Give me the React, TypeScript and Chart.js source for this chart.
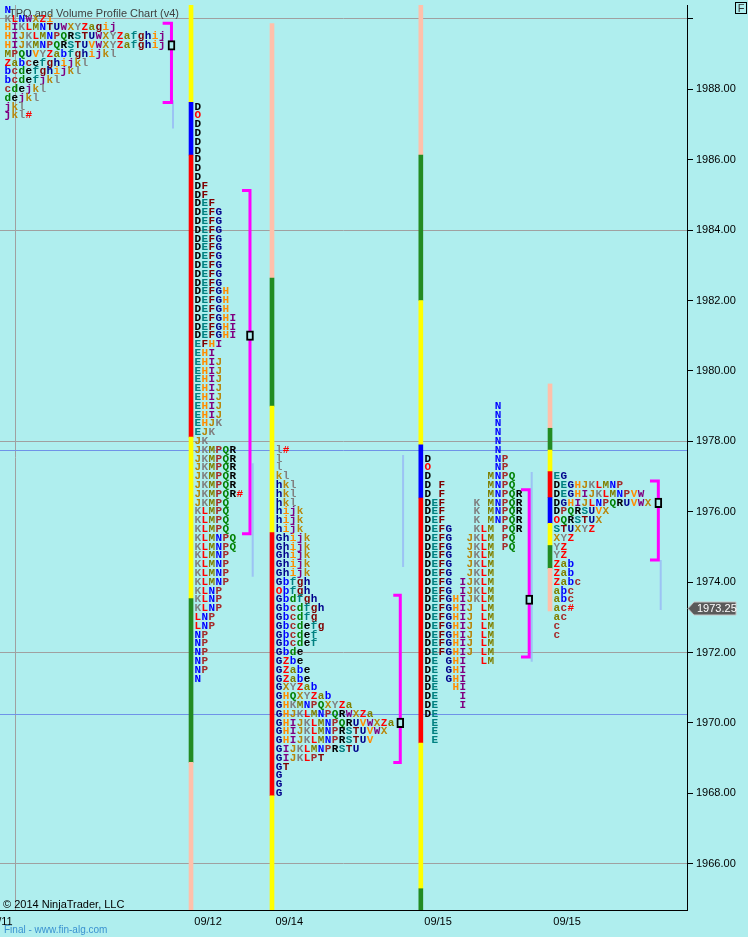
import React, { useEffect, useRef } from 'react';
import { Chart, registerables } from 'chart.js';

Chart.register(...registerables);

const BG = '#AFEEEE';

// ---- axes ----
const yMin = 1964.685;
const yMax = 1990.395;
const yTicks = [1966, 1968, 1970, 1972, 1974, 1976, 1978, 1980, 1982, 1984, 1986, 1988, 1990];
const yGridLevels = [1966, 1972, 1978, 1984, 1990];
const refLevels = [1977.75, 1970.25];
const xMin = 0;
const xMax = 98;
const gridVerticals = [2.14];
const lastPrice = 1973.25;

// ---- sessions ----
const sessionDates = ['09/11', '09/12', '09/14', '09/15', '09/15'];
const dateTickX = [-2.0, 27.72, 39.3, 60.53, 78.93];
const tpoStartX = [0.61, 27.72, 39.3, 60.53, 78.93];
const tpoTop = [1990.25, 1987.5, 1977.75, 1979.0, 1977.0];

const rep = (s: string, n: number) => Array.from({ length: n }, () => s);

const tpoRows1 = [
  'N', 'KLNWXZi', 'HIKLMNTUWXYZagij', 'HIJKLMNPQRSTUWXYZafghij', 'HIJKMNPQRSTUVWXYZafghij',
  'MPQUVYZabfghijkl', 'Zabcefghijkl', 'bcdefghijkl', 'bcdefjkl', 'cdejkl', 'dejkl', 'jkl', 'jkl#',
];
const tpoRows2 = [
  'D', 'O', ...rep('D', 7), 'DF', 'DF', 'DEF', ...rep('DEFG', 9), ...rep('DEFGH', 3), ...rep('DEFGHI', 3),
  'EFHI', 'EHI', ...rep('EHIJ', 7), 'EHJK', 'EJK', 'JK', ...rep('JKMPQR', 5), 'JKMPQR#', 'JKMPQ',
  ...rep('KLMPQ', 3), ...rep('KLMNPQ', 2), ...rep('KLMNP', 4), ...rep('KLNP', 3), ...rep('LNP', 2),
  ...rep('NP', 5), 'N',
];
const tpoRows3 = [
  'l#', 'l', 'l', 'kl', 'hkl', 'hkl', 'hkl', 'hijk', 'hijk', 'hijk', ...rep('Ghijk', 5),
  'Gbfgh', 'Obfgh', 'Gbdfgh', 'Gbcdfgh', 'Gbcdfg', 'Gbcdefg', 'Gbcdef', 'Gbcdef', 'Gbde',
  'GZbe', 'GZabe', 'GZabe', 'GXYZab', 'GHQXYZab', 'GHKMNPQXYZa', 'GHJKLMNPQRWXZa',
  'GHIJKLMNPQRUVWXZa', 'GHIJKLMNPRSTUVWX', 'GHIJKLMNPRSTUV', 'GIJKLMNPRSTU', 'GIJKLPT', 'GT', 'G', 'G', 'G',
];
const tpoRows4 = [
  ...rep('          N', 6), 'D         NP', 'O         NP', 'D        MNPQ', 'D F      MNPQ', 'D F      MNPQR',
  ...rep('DEF    K MNPQR', 3), 'DEFG   KLM PQR', ...rep('DEFG  JKLM PQ', 2), ...rep('DEFG  JKLM', 3),
  ...rep('DEFG IJKLM', 2), 'DEFGHIJKLM', ...rep('DEFGHIJ LM', 6), 'DE GHI  LM', ...rep('DE GHI', 2),
  'DE  HI', ...rep('DE   I', 2), 'DE', ...rep(' E', 3),
];
const tpoRows5 = [
  'EG', 'DEGHJKLMNP', 'DEGHIJKLMNPVW', 'DGHIJLNPQRUVWX', 'DPQRSUVX', 'OQRSTUX', 'STUXYZ', 'XYZ', 'YZ', 'YZ',
  'Zab', 'Zab', 'Zabc', 'abc', 'abc', 'ac#', 'ac', 'c', 'c',
];
const tpoSessions = [tpoRows1, tpoRows2, tpoRows3, tpoRows4, tpoRows5];
const tpoStep = 0.25;

// TPO letter colour cycle (O is reserved for the open, # for the close)
const tpoLetters = 'DEFGHIJKLMNPQRSTUVWXYZabcdefghijkl';
const tpoPalette = ['#000000', '#008080', '#800000', '#00008B', '#FF8C00', '#800080', '#B8860B',
  '#808080', '#FF0000', '#808000', '#0000FF', '#A52A2A', '#008000'];

// volume-profile colour strips: [low, high, colourKey]
const profileBarX = [27.25, 38.8, 60.03, 78.46];
const profileSegments = [
  [[1987.63, 1990.395, 'Y'], [1986.13, 1987.63, 'B'], [1978.12, 1986.13, 'R'], [1973.53, 1978.12, 'Y'], [1968.88, 1973.53, 'G'], [1964.685, 1968.88, 'S']],
  [[1982.64, 1989.87, 'S'], [1979.0, 1982.64, 'G'], [1975.41, 1979.0, 'Y'], [1967.93, 1975.41, 'R'], [1964.685, 1967.93, 'Y']],
  [[1986.13, 1990.395, 'S'], [1982.0, 1986.13, 'G'], [1977.9, 1982.0, 'Y'], [1976.39, 1977.9, 'B'], [1969.43, 1976.39, 'R'], [1965.29, 1969.43, 'Y'], [1964.685, 1965.29, 'G']],
  [[1978.37, 1979.63, 'S'], [1977.75, 1978.37, 'G'], [1977.14, 1977.75, 'Y'], [1976.4, 1977.14, 'R'], [1975.67, 1976.4, 'B'], [1975.04, 1975.67, 'Y'], [1974.39, 1975.04, 'G'], [1973.18, 1974.39, 'S']],
];
const stripColors: Record<string, string> = { Y: '#FFFF00', B: '#0000FF', R: '#FF0000', G: '#228B22', S: '#FFC0AA' };

// value areas
const vaX = [24.46, 35.66, 57.1, 75.49, 93.91];
const vaTickX = [23.2, 34.52, 56.1, 74.32, 92.72];
const vaTop = [1989.875, 1985.125, 1973.625, 1976.625, 1976.875];
const vaBottom = [1987.625, 1975.375, 1968.875, 1971.875, 1974.625];
const pocPrice = [1989.25, 1981.0, 1970.0, 1973.5, 1976.25];

// faint developing lines
const faintX = [24.68, 36.05, 57.5, 75.85, 94.25];
const faintTop = [1987.69, 1977.38, 1977.61, 1977.13, 1974.63];
const faintBottom = [1986.89, 1974.15, 1974.43, 1971.74, 1973.21];

const SANS = "'Liberation Sans', Arial, sans-serif";

function letterColor(ch: string) {
  if (ch === 'O' || ch === '#') return '#FF0000';
  const i = tpoLetters.indexOf(ch);
  return i < 0 ? '#000' : tpoPalette[i % tpoPalette.length];
}

const bgPlugin = {
  id: 'bgFill',
  beforeDraw(chart: any) {
    const { ctx, width, height } = chart;
    ctx.save();
    ctx.fillStyle = BG;
    ctx.fillRect(0, 0, width, height);
    ctx.restore();
  },
};

const tpoPlugin = {
  id: 'tpoLetters',
  beforeDatasetsDraw(chart: any) {
    const { ctx, chartArea: a, scales } = chart;
    const x = scales.x;
    const y = scales.y;
    ctx.save();
    ctx.beginPath();
    ctx.rect(a.left, a.top, a.right - a.left, a.bottom - a.top);
    ctx.clip();
    ctx.lineWidth = 1;
    ctx.strokeStyle = '#A0A0A0';
    gridVerticals.forEach((v) => {
      const px = Math.round(x.getPixelForValue(v)) + 0.5;
      ctx.beginPath();
      ctx.moveTo(px, a.top);
      ctx.lineTo(px, a.bottom);
      ctx.stroke();
    });
    ctx.strokeStyle = '#6F93E8';
    refLevels.forEach((p) => {
      const py = Math.round(y.getPixelForValue(p)) + 0.5;
      ctx.beginPath();
      ctx.moveTo(a.left, py);
      ctx.lineTo(a.right, py);
      ctx.stroke();
    });
    ctx.font = "bold 11px 'Liberation Mono', 'Courier New', monospace";
    ctx.textAlign = 'center';
    ctx.textBaseline = 'middle';
    tpoSessions.forEach((rows, s) => {
      rows.forEach((row, r) => {
        const py = y.getPixelForValue(tpoTop[s] - r * tpoStep);
        Array.from(row).forEach((ch, c) => {
          if (ch === ' ') return;
          ctx.fillStyle = letterColor(ch);
          ctx.fillText(ch, x.getPixelForValue(tpoStartX[s] + c + 0.5), py);
        });
      });
    });
    ctx.restore();
  },
  afterDraw(chart: any) {
    const { ctx, scales } = chart;
    const y = scales.y;
    ctx.save();
    ctx.textAlign = 'left';
    ctx.textBaseline = 'alphabetic';
    ctx.font = `11px ${SANS}`;
    ctx.fillStyle = '#404040';
    ctx.fillText('TPO and Volume Profile Chart (v4)', 9, 16.5);
    ctx.fillStyle = '#000000';
    ctx.fillText('\u00A9 2014 NinjaTrader, LLC', 3, 908);
    ctx.font = `10px ${SANS}`;
    ctx.fillStyle = '#3A92D0';
    ctx.fillText('Final - www.fin-alg.com', 4, 933);

    // F box
    ctx.strokeStyle = '#000';
    ctx.lineWidth = 1;
    ctx.strokeRect(735.5, 2.5, 11, 11);
    ctx.font = `11px ${SANS}`;
    ctx.fillStyle = '#333';
    ctx.textAlign = 'center';
    ctx.textBaseline = 'middle';
    ctx.fillText('F', 741, 8.5);

    // last price marker
    const py = y.getPixelForValue(lastPrice);
    const x0 = y.left + 1;
    ctx.beginPath();
    ctx.moveTo(x0, py);
    ctx.lineTo(x0 + 6, py - 6.5);
    ctx.lineTo(x0 + 48, py - 6.5);
    ctx.lineTo(x0 + 48, py + 6.5);
    ctx.lineTo(x0 + 6, py + 6.5);
    ctx.closePath();
    ctx.fillStyle = '#5A5A5A';
    ctx.fill();
    ctx.strokeStyle = '#C8C8C8';
    ctx.stroke();
    ctx.fillStyle = '#FFFFFF';
    ctx.textAlign = 'left';
    ctx.font = `11px ${SANS}`;
    ctx.fillText(lastPrice.toFixed(2), x0 + 9, py + 0.5);
    ctx.restore();
  },
};

export default function App() {
  const ref = useRef<HTMLCanvasElement | null>(null);

  useEffect(() => {
    document.body.style.margin = '0';
    document.body.style.background = BG;
    const canvas = ref.current;
    if (!canvas) return;

    const segData: any[] = [];
    const segColors: string[] = [];
    profileSegments.forEach((segs, i) => {
      segs.forEach((sg: any) => {
        segData.push({ x: profileBarX[i], y: [sg[0], sg[1]] });
        segColors.push(stripColors[sg[2]]);
      });
    });

    const barCommon = {
      type: 'bar',
      grouped: false,
      barPercentage: 100,
      categoryPercentage: 1,
      borderSkipped: false,
    };

    const datasets: any[] = [
      {
        ...barCommon,
        label: 'profile',
        data: segData,
        backgroundColor: segColors,
        borderWidth: 0,
        barThickness: 4,
        maxBarThickness: 4,
        order: 5,
      },
      {
        ...barCommon,
        label: 'POC',
        data: pocPrice.map((p, i) => ({ x: vaX[i], y: [p - 0.135, p + 0.135] })),
        backgroundColor: BG,
        borderColor: '#000000',
        borderWidth: 2,
        barThickness: 7,
        maxBarThickness: 7,
        order: 1,
      },
      ...vaX.map((vx, i) => ({
        type: 'line',
        label: 'VA' + i,
        data: [
          { x: vaTickX[i], y: vaTop[i] },
          { x: vx, y: vaTop[i] },
          { x: vx, y: vaBottom[i] },
          { x: vaTickX[i], y: vaBottom[i] },
        ],
        borderColor: '#FF00FF',
        borderWidth: 3,
        borderJoinStyle: 'miter',
        borderCapStyle: 'butt',
        pointRadius: 0,
        pointHoverRadius: 0,
        fill: false,
        tension: 0,
        order: 2,
      })),
      ...faintX.map((fx, i) => ({
        type: 'line',
        label: 'dev' + i,
        data: [
          { x: fx, y: faintTop[i] },
          { x: fx, y: faintBottom[i] },
        ],
        borderColor: 'rgba(150,180,245,0.75)',
        borderWidth: 2,
        pointRadius: 0,
        pointHoverRadius: 0,
        fill: false,
        order: 4,
      })),
    ];

    const tickFont = { family: SANS, size: 11 };

    const chart = new Chart(canvas, {
      type: 'bar',
      data: { datasets },
      plugins: [bgPlugin, tpoPlugin],
      options: {
        responsive: false,
        animation: false,
        devicePixelRatio: 1,
        events: [],
        layout: { padding: { top: 5, left: 0, right: 0, bottom: 0 } },
        plugins: {
          legend: { display: false },
          tooltip: { enabled: false },
          title: { display: false },
        },
        scales: {
          x: {
            type: 'linear',
            min: xMin,
            max: xMax,
            bounds: 'data',
            offset: false,
            grid: { display: false, drawTicks: false, offset: false },
            border: { display: true, color: '#000000', width: 1 },
            ticks: {
              align: 'start',
              padding: 5,
              autoSkip: false,
              maxRotation: 0,
              minRotation: 0,
              color: '#000000',
              font: tickFont,
              callback: (_v: any, index: number) => sessionDates[index],
            },
            afterBuildTicks: (s: any) => {
              s.ticks = dateTickX.map((v) => ({ value: v }));
            },
            afterFit: (s: any) => {
              s.height = 27;
              s.paddingLeft = 0;
              s.paddingRight = 0;
            },
          },
          y: {
            type: 'linear',
            position: 'right',
            min: yMin,
            max: yMax,
            bounds: 'data',
            grid: {
              color: (c: any) => (c.tick && yGridLevels.includes(c.tick.value) ? '#A0A0A0' : 'rgba(0,0,0,0)'),
              tickColor: '#000000',
              tickLength: 6,
              drawTicks: true,
              lineWidth: 1,
            },
            border: { display: true, color: '#000000', width: 1 },
            ticks: {
              padding: 3,
              color: '#000000',
              font: tickFont,
              callback: (v: any) => (Number(v) >= 1990 ? '' : Number(v).toFixed(2)),
            },
            afterBuildTicks: (s: any) => {
              s.ticks = yTicks.map((v) => ({ value: v }));
            },
            afterFit: (s: any) => {
              s.width = 61;
              s.paddingTop = 0;
              s.paddingBottom = 0;
            },
          },
        },
      } as any,
    } as any);

    return () => chart.destroy();
  }, []);

  return (
    <canvas
      ref={ref}
      width={748}
      height={937}
      style={{ display: 'block', width: '748px', height: '937px' }}
    />
  );
}
